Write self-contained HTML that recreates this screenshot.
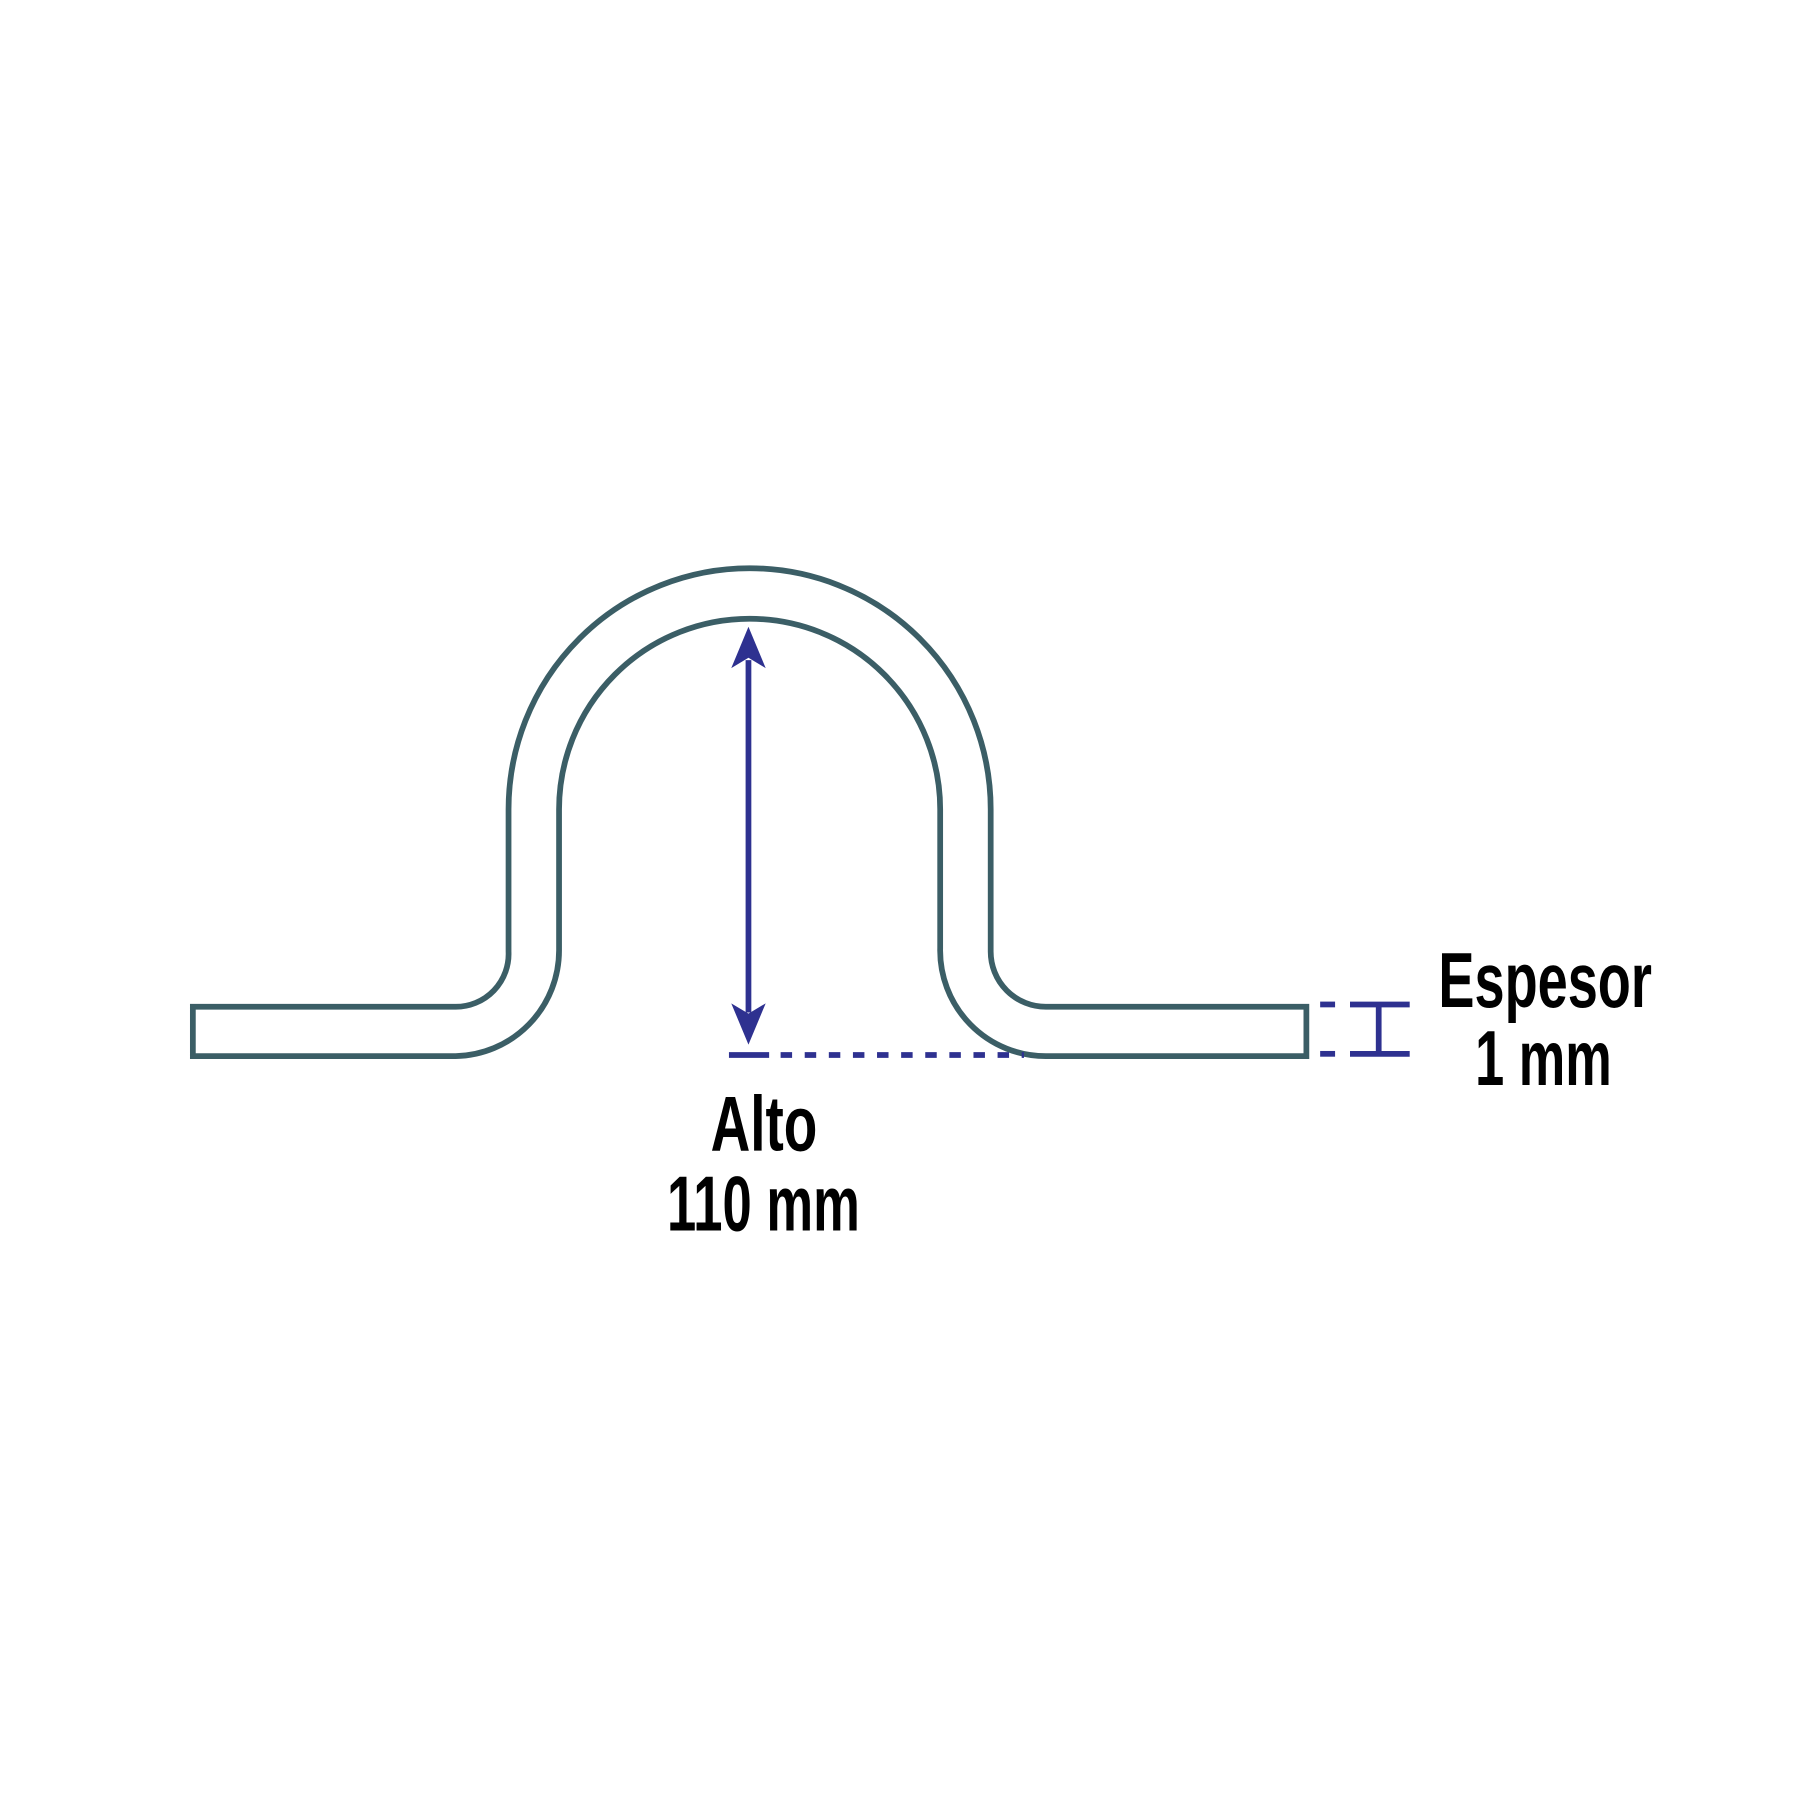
<!DOCTYPE html>
<html><head><meta charset="utf-8"><style>html,body{margin:0;padding:0;background:#fff}svg{display:block}</style></head>
<body>
<svg width="1800" height="1800" viewBox="0 0 1568 1568" xmlns="http://www.w3.org/2000/svg">
<path d="M168,877 L397,877 A46,46 0 0 0 443,829 L443,705 A210,210 0 0 1 863,705 L863,829 A48,48 0 0 0 911,877 L1138,877 L1138,920 L911,920 A92,92 0 0 1 819,826 L819,705 A166,166 0 0 0 487,705 L487,828 A92,92 0 0 1 397,920 L168,920 Z" fill="none" stroke="#3b5e66" stroke-width="5"/>
<line x1="652" y1="575" x2="652" y2="882" stroke="#2e3190" stroke-width="5"/>
<path d="M652,546 L667,582 L652,573 L637,582 Z" fill="#2e3190"/>
<path d="M652,910 L667,874 L652,883 L637,874 Z" fill="#2e3190"/>
<line x1="635" y1="919" x2="670" y2="919" stroke="#2e3190" stroke-width="5"/>
<line x1="680" y1="919" x2="892" y2="919" stroke="#2e3190" stroke-width="5" stroke-dasharray="10,11"/>
<line x1="1150" y1="875" x2="1163" y2="875" stroke="#2e3190" stroke-width="5"/>
<line x1="1150" y1="918" x2="1163" y2="918" stroke="#2e3190" stroke-width="5"/>
<line x1="1176" y1="875" x2="1228" y2="875" stroke="#2e3190" stroke-width="5"/>
<line x1="1176" y1="918" x2="1228" y2="918" stroke="#2e3190" stroke-width="5"/>
<line x1="1201" y1="875" x2="1201" y2="918" stroke="#2e3190" stroke-width="5"/>
<g font-family="Liberation Sans, sans-serif" font-size="68" font-weight="bold" fill="#000">
<text x="1253" y="877" textLength="186" lengthAdjust="spacingAndGlyphs">Espesor</text>
<text x="1285" y="945" textLength="119" lengthAdjust="spacingAndGlyphs">1 mm</text>
<text x="619" y="1002" textLength="93" lengthAdjust="spacingAndGlyphs">Alto</text>
<text x="581" y="1072" textLength="168" lengthAdjust="spacingAndGlyphs">110 mm</text>
</g>
</svg>
</body></html>
